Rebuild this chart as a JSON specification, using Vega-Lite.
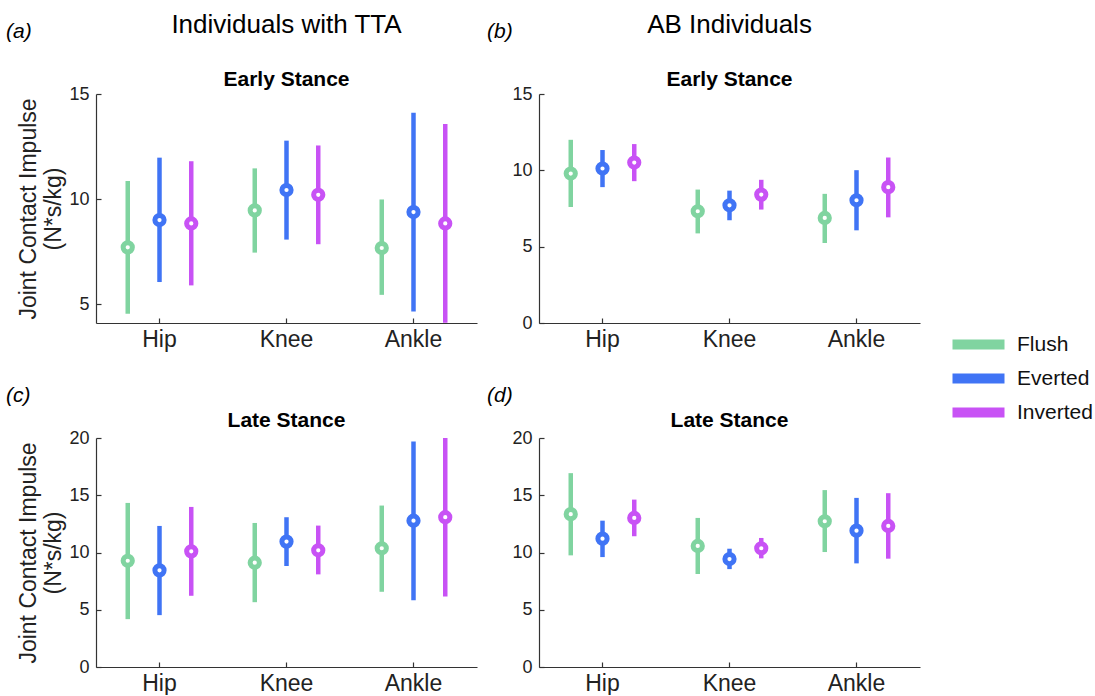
{
  "$schema": "https://vega.github.io/schema/vega-lite/v6.json",
  "padding": {"left": 5, "top": 12, "right": 0, "bottom": 0},
  "background": "white",
  "config": {
    "view": {"stroke": null},
    "font": "Liberation Sans",
    "axis": {"domainColor": "#333333", "tickColor": "#333333", "labelColor": "#222222", "titleColor": "#222222", "labelFont": "Liberation Sans", "titleFont": "Liberation Sans", "titleFontWeight": "normal", "grid": false, "domainWidth": 1.2, "tickWidth": 1.2},
    "title": {"font": "Liberation Sans", "color": "black", "subtitleFont": "Liberation Sans", "subtitleColor": "black"}
  },
  "spacing": 9,
  "datasets": {
    "impulse": [
      {"panel": "a", "joint": "Hip", "condition": "Flush", "mean": 7.70, "lower": 4.54, "upper": 10.86},
      {"panel": "a", "joint": "Hip", "condition": "Everted", "mean": 9.00, "lower": 6.05, "upper": 11.97},
      {"panel": "a", "joint": "Hip", "condition": "Inverted", "mean": 8.84, "lower": 5.89, "upper": 11.80},
      {"panel": "a", "joint": "Knee", "condition": "Flush", "mean": 9.46, "lower": 7.45, "upper": 11.46},
      {"panel": "a", "joint": "Knee", "condition": "Everted", "mean": 10.43, "lower": 8.07, "upper": 12.78},
      {"panel": "a", "joint": "Knee", "condition": "Inverted", "mean": 10.20, "lower": 7.85, "upper": 12.55},
      {"panel": "a", "joint": "Ankle", "condition": "Flush", "mean": 7.67, "lower": 5.44, "upper": 9.98},
      {"panel": "a", "joint": "Ankle", "condition": "Everted", "mean": 9.38, "lower": 4.65, "upper": 14.11},
      {"panel": "a", "joint": "Ankle", "condition": "Inverted", "mean": 8.84, "lower": 4.11, "upper": 13.57},
      {"panel": "b", "joint": "Hip", "condition": "Flush", "mean": 9.79, "lower": 7.60, "upper": 12.00},
      {"panel": "b", "joint": "Hip", "condition": "Everted", "mean": 10.12, "lower": 8.90, "upper": 11.33},
      {"panel": "b", "joint": "Hip", "condition": "Inverted", "mean": 10.51, "lower": 9.29, "upper": 11.72},
      {"panel": "b", "joint": "Knee", "condition": "Flush", "mean": 7.32, "lower": 5.87, "upper": 8.74},
      {"panel": "b", "joint": "Knee", "condition": "Everted", "mean": 7.71, "lower": 6.73, "upper": 8.67},
      {"panel": "b", "joint": "Knee", "condition": "Inverted", "mean": 8.41, "lower": 7.43, "upper": 9.38},
      {"panel": "b", "joint": "Ankle", "condition": "Flush", "mean": 6.88, "lower": 5.24, "upper": 8.46},
      {"panel": "b", "joint": "Ankle", "condition": "Everted", "mean": 8.04, "lower": 6.07, "upper": 10.01},
      {"panel": "b", "joint": "Ankle", "condition": "Inverted", "mean": 8.90, "lower": 6.92, "upper": 10.84},
      {"panel": "c", "joint": "Hip", "condition": "Flush", "mean": 9.28, "lower": 4.18, "upper": 14.33},
      {"panel": "c", "joint": "Hip", "condition": "Everted", "mean": 8.44, "lower": 4.53, "upper": 12.32},
      {"panel": "c", "joint": "Hip", "condition": "Inverted", "mean": 10.10, "lower": 6.22, "upper": 13.98},
      {"panel": "c", "joint": "Knee", "condition": "Flush", "mean": 9.11, "lower": 5.66, "upper": 12.58},
      {"panel": "c", "joint": "Knee", "condition": "Everted", "mean": 10.95, "lower": 8.82, "upper": 13.08},
      {"panel": "c", "joint": "Knee", "condition": "Inverted", "mean": 10.19, "lower": 8.09, "upper": 12.35},
      {"panel": "c", "joint": "Ankle", "condition": "Flush", "mean": 10.37, "lower": 6.57, "upper": 14.10},
      {"panel": "c", "joint": "Ankle", "condition": "Everted", "mean": 12.78, "lower": 5.84, "upper": 19.70},
      {"panel": "c", "joint": "Ankle", "condition": "Inverted", "mean": 13.08, "lower": 6.16, "upper": 20.00},
      {"panel": "d", "joint": "Hip", "condition": "Flush", "mean": 13.35, "lower": 9.75, "upper": 16.93},
      {"panel": "d", "joint": "Hip", "condition": "Everted", "mean": 11.21, "lower": 9.60, "upper": 12.78},
      {"panel": "d", "joint": "Hip", "condition": "Inverted", "mean": 13.02, "lower": 11.42, "upper": 14.62},
      {"panel": "d", "joint": "Knee", "condition": "Flush", "mean": 10.57, "lower": 8.12, "upper": 13.02},
      {"panel": "d", "joint": "Knee", "condition": "Everted", "mean": 9.43, "lower": 8.55, "upper": 10.33},
      {"panel": "d", "joint": "Knee", "condition": "Inverted", "mean": 10.37, "lower": 9.49, "upper": 11.27},
      {"panel": "d", "joint": "Ankle", "condition": "Flush", "mean": 12.73, "lower": 10.04, "upper": 15.45},
      {"panel": "d", "joint": "Ankle", "condition": "Everted", "mean": 11.91, "lower": 9.05, "upper": 14.77},
      {"panel": "d", "joint": "Ankle", "condition": "Inverted", "mean": 12.32, "lower": 9.46, "upper": 15.18}
    ]
  },
  "hconcat": [
    {
      "vconcat": [
        {
          "title": {"text": "(a)", "anchor": "start", "fontSize": 21, "fontStyle": "italic", "fontWeight": "normal", "dx": -12, "dy": 34},
          "vconcat": [
            {
              "width": 381, "height": 229,
              "data": {"name": "impulse"},
              "transform": [{"filter": "datum.panel === 'a'"}],
              "title": {"text": "Individuals with TTA", "subtitle": "Early Stance", "fontSize": 26, "fontWeight": "normal", "subtitleFontSize": 21, "subtitleFontWeight": "bold", "subtitlePadding": 31, "anchor": "middle", "frame": "group", "offset": -5},
              "encoding": {
                "x": {"field": "joint", "type": "nominal", "sort": ["Hip", "Knee", "Ankle"], "scale": {"type": "band", "paddingInner": 0, "paddingOuter": 0}, "axis": {"title": null, "labelAngle": 0, "labelFontSize": 23, "tickSize": -5, "labelPadding": 10}},
                "xOffset": {"field": "condition", "type": "nominal", "sort": ["Flush", "Everted", "Inverted"], "scale": {"type": "point", "padding": 2.43}},
                "color": {"field": "condition", "type": "nominal", "sort": ["Flush", "Everted", "Inverted"], "scale": {"domain": ["Flush", "Everted", "Inverted"], "range": ["#80d4a0", "#4074f5", "#c852f5"]}, "legend": {"title": null, "orient": "none", "legendX": 846, "legendY": 240, "symbolType": "M0,0H10.4", "symbolSize": 100, "symbolStrokeWidth": 10, "clipHeight": 21, "labelFontSize": 21, "labelFont": "Liberation Sans", "labelColor": "#111111", "rowPadding": 12, "labelOffset": 54}}
              },
              "layer": [
                {"mark": {"type": "rule", "strokeWidth": 4.5, "clip": true}, "encoding": {"y": {"field": "lower", "type": "quantitative", "scale": {"domain": [4.1, 15], "nice": false, "zero": false}, "axis": {"values": [5, 10, 15], "labelFontSize": 18, "tickSize": -5, "labelPadding": 12, "title": ["Joint Contact Impulse", "(N*s/kg)"], "titleFontSize": 23, "titlePadding": 3}}, "y2": {"field": "upper"}}},
                {"mark": {"type": "point", "shape": "circle", "filled": false, "fill": "white", "strokeWidth": 5, "size": 85, "opacity": 1}, "encoding": {"y": {"field": "mean", "type": "quantitative"}}}
              ]
            }
          ]
        },
        {
          "title": {"text": "(c)", "anchor": "start", "fontSize": 21, "fontStyle": "italic", "fontWeight": "normal", "dx": -12},
          "vconcat": [
            {
              "width": 381, "height": 229,
              "data": {"name": "impulse"},
              "transform": [{"filter": "datum.panel === 'c'"}],
              "title": {"text": "Late Stance", "fontSize": 21, "fontWeight": "bold", "anchor": "middle", "frame": "group", "offset": -2},
              "encoding": {
                "x": {"field": "joint", "type": "nominal", "sort": ["Hip", "Knee", "Ankle"], "scale": {"type": "band", "paddingInner": 0, "paddingOuter": 0}, "axis": {"title": null, "labelAngle": 0, "labelFontSize": 23, "tickSize": -5, "labelPadding": 10}},
                "xOffset": {"field": "condition", "type": "nominal", "sort": ["Flush", "Everted", "Inverted"], "scale": {"type": "point", "padding": 2.43}},
                "color": {"field": "condition", "type": "nominal", "sort": ["Flush", "Everted", "Inverted"]}
              },
              "layer": [
                {"mark": {"type": "rule", "strokeWidth": 4.5, "clip": true}, "encoding": {"y": {"field": "lower", "type": "quantitative", "scale": {"domain": [0, 20], "nice": false}, "axis": {"values": [0, 5, 10, 15, 20], "labelFontSize": 18, "tickSize": -5, "labelPadding": 12, "title": ["Joint Contact Impulse", "(N*s/kg)"], "titleFontSize": 23, "titlePadding": 3}}, "y2": {"field": "upper"}}},
                {"mark": {"type": "point", "shape": "circle", "filled": false, "fill": "white", "strokeWidth": 5, "size": 85, "opacity": 1}, "encoding": {"y": {"field": "mean", "type": "quantitative"}}}
              ]
            }
          ]
        }
      ],
      "spacing": 34
    },
    {
      "vconcat": [
        {
          "title": {"text": "(b)", "anchor": "start", "fontSize": 21, "fontStyle": "italic", "fontWeight": "normal", "dx": -25, "dy": 34},
          "vconcat": [
            {
              "width": 381, "height": 229,
              "data": {"name": "impulse"},
              "transform": [{"filter": "datum.panel === 'b'"}],
              "title": {"text": "AB Individuals", "subtitle": "Early Stance", "fontSize": 26, "fontWeight": "normal", "subtitleFontSize": 21, "subtitleFontWeight": "bold", "subtitlePadding": 31, "anchor": "middle", "frame": "group", "offset": -5},
              "encoding": {
                "x": {"field": "joint", "type": "nominal", "sort": ["Hip", "Knee", "Ankle"], "scale": {"type": "band", "paddingInner": 0, "paddingOuter": 0}, "axis": {"title": null, "labelAngle": 0, "labelFontSize": 23, "tickSize": -5, "labelPadding": 10}},
                "xOffset": {"field": "condition", "type": "nominal", "sort": ["Flush", "Everted", "Inverted"], "scale": {"type": "point", "padding": 2.43}},
                "color": {"field": "condition", "type": "nominal", "sort": ["Flush", "Everted", "Inverted"]}
              },
              "layer": [
                {"mark": {"type": "rule", "strokeWidth": 4.5, "clip": true}, "encoding": {"y": {"field": "lower", "type": "quantitative", "scale": {"domain": [0, 15], "nice": false}, "axis": {"values": [0, 5, 10, 15], "labelFontSize": 18, "tickSize": -5, "labelPadding": 12, "title": null}}, "y2": {"field": "upper"}}},
                {"mark": {"type": "point", "shape": "circle", "filled": false, "fill": "white", "strokeWidth": 5, "size": 85, "opacity": 1}, "encoding": {"y": {"field": "mean", "type": "quantitative"}}}
              ]
            }
          ]
        },
        {
          "title": {"text": "(d)", "anchor": "start", "fontSize": 21, "fontStyle": "italic", "fontWeight": "normal", "dx": -25},
          "vconcat": [
            {
              "width": 381, "height": 229,
              "data": {"name": "impulse"},
              "transform": [{"filter": "datum.panel === 'd'"}],
              "title": {"text": "Late Stance", "fontSize": 21, "fontWeight": "bold", "anchor": "middle", "frame": "group", "offset": -2},
              "encoding": {
                "x": {"field": "joint", "type": "nominal", "sort": ["Hip", "Knee", "Ankle"], "scale": {"type": "band", "paddingInner": 0, "paddingOuter": 0}, "axis": {"title": null, "labelAngle": 0, "labelFontSize": 23, "tickSize": -5, "labelPadding": 10}},
                "xOffset": {"field": "condition", "type": "nominal", "sort": ["Flush", "Everted", "Inverted"], "scale": {"type": "point", "padding": 2.43}},
                "color": {"field": "condition", "type": "nominal", "sort": ["Flush", "Everted", "Inverted"]}
              },
              "layer": [
                {"mark": {"type": "rule", "strokeWidth": 4.5, "clip": true}, "encoding": {"y": {"field": "lower", "type": "quantitative", "scale": {"domain": [0, 20], "nice": false}, "axis": {"values": [0, 5, 10, 15, 20], "labelFontSize": 18, "tickSize": -5, "labelPadding": 12, "title": null}}, "y2": {"field": "upper"}}},
                {"mark": {"type": "point", "shape": "circle", "filled": false, "fill": "white", "strokeWidth": 5, "size": 85, "opacity": 1}, "encoding": {"y": {"field": "mean", "type": "quantitative"}}}
              ]
            }
          ]
        }
      ],
      "spacing": 34
    }
  ]
}
